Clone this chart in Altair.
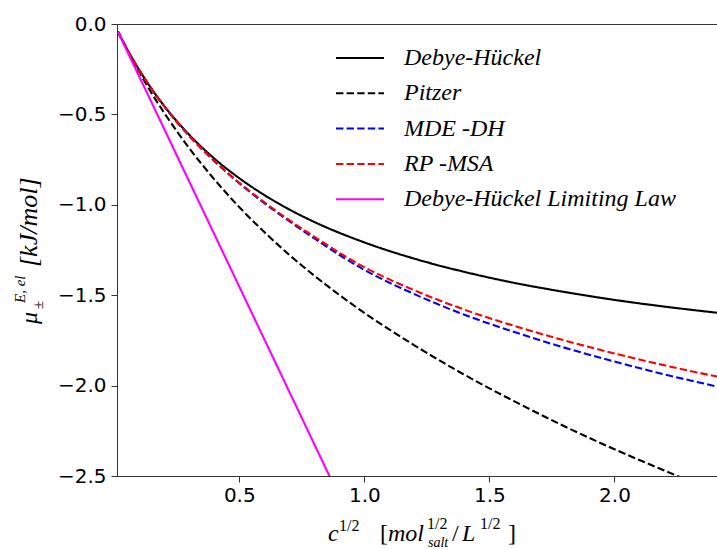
import altair as alt
import pandas as pd

# Square root of salt concentration, c^(1/2) in mol^(1/2)/L^(1/2)
sqrt_c = [0.015, 0.05, 0.1, 0.15, 0.2, 0.3, 0.4, 0.5, 0.6, 0.7, 0.8,
          1.0, 1.2, 1.4, 1.6, 1.8, 2.0, 2.2, 2.41]

# Electrostatic excess chemical potential, kJ/mol
debye_huckel = [-0.043, -0.136, -0.255, -0.360, -0.454, -0.613, -0.744, -0.853,
                -0.946, -1.026, -1.095, -1.208, -1.298, -1.371, -1.432, -1.482,
                -1.526, -1.563, -1.597]
pitzer = [-0.043, -0.139, -0.266, -0.384, -0.492, -0.687, -0.859, -1.013,
          -1.151, -1.277, -1.392, -1.598, -1.777, -1.940, -2.087, -2.225,
          -2.352, -2.470, -2.590]
mde_dh = [-0.043, -0.136, -0.255, -0.361, -0.456, -0.620, -0.758, -0.881,
          -0.991, -1.091, -1.186, -1.360, -1.494, -1.608, -1.704, -1.790,
          -1.867, -1.938, -2.005]
rp_msa = [-0.043, -0.136, -0.255, -0.361, -0.456, -0.619, -0.757, -0.878,
          -0.986, -1.085, -1.177, -1.345, -1.473, -1.580, -1.670, -1.750,
          -1.822, -1.888, -1.950]

# Debye-Hückel limiting law is a straight line in c^(1/2)
dhll_x = [0.015, 0.9]
dhll_y = [-0.044, -2.615]

series_names = ["Debye-Hückel", "Pitzer", "MDE -DH", "RP -MSA",
                "Debye-Hückel Limiting Law"]
series_colors = ["#000000", "#000000", "#0000ff", "#ff0000", "#ff00ff"]
series_dashes = [[1, 0], [7.4, 3.2], [7.4, 3.2], [7.4, 3.2], [1, 0]]

rows = []
for name, values in zip(series_names[:4], [debye_huckel, pitzer, mde_dh, rp_msa]):
    for i, (x, y) in enumerate(zip(sqrt_c, values)):
        rows.append({"x": x, "y": y, "model": name, "i": i})
for i, (x, y) in enumerate(zip(dhll_x, dhll_y)):
    rows.append({"x": x, "y": y, "model": series_names[4], "i": i})
df = pd.DataFrame(rows)

W, H = 600, 452
LEFT, TOP = 117, 24

legend_cfg = dict(
    title=None, orient="none", legendX=218, legendY=22,
    labelFont="Liberation Serif", labelFontStyle="italic", labelFontSize=24,
    labelColor="black", labelLimit=500, symbolType="stroke", symbolSize=2304,
    symbolStrokeWidth=2, labelOffset=19, clipHeight=24, rowPadding=11.3,
    padding=0,
)

x_enc = alt.X("x:Q", scale=alt.Scale(domain=[0.011, 2.41], nice=False, zero=False),
              axis=alt.Axis(values=[0.5, 1.0, 1.5, 2.0], format=".1f", title=None,
                            tickSize=6, labelFontSize=20, labelFont="DejaVu Sans",
                            labelColor="black", domainColor="#333", tickColor="#333",
                            grid=False, labelPadding=3, labelFlush=False))
y_enc = alt.Y("y:Q", scale=alt.Scale(domain=[-2.5, 0], nice=False, zero=False),
              axis=alt.Axis(values=[-2.5, -2.0, -1.5, -1.0, -0.5, 0.0], format=".1f",
                            title=None, tickSize=6, labelFontSize=20,
                            labelFont="DejaVu Sans", labelColor="black",
                            domainColor="#333", tickColor="#333", grid=False,
                            labelPadding=5, labelFlush=False))
color_enc = alt.Color("model:N", sort=series_names,
                      scale=alt.Scale(domain=series_names, range=series_colors),
                      legend=alt.Legend(**legend_cfg))
dash_enc = alt.StrokeDash("model:N", sort=series_names,
                          scale=alt.Scale(domain=series_names, range=series_dashes),
                          legend=alt.Legend(**legend_cfg))

base = alt.Chart(df)
lines = []
for name in series_names:
    lines.append(
        base.transform_filter(alt.datum.model == name)
        .mark_line(clip=True, strokeWidth=2.1, interpolate="monotone", strokeCap="butt")
        .encode(x=x_enc, y=y_enc, color=color_enc, strokeDash=dash_enc,
                order=alt.Order("i:Q"))
    )


def piece(text, px, py, size, italic=True, angle=0):
    """Place one fragment of an axis title at pixel position (px, py) of the page."""
    return alt.Chart(pd.DataFrame({"t": [text]})).mark_text(
        align="left", baseline="alphabetic", font="Liberation Serif",
        fontStyle="italic" if italic else "normal", fontSize=size,
        angle=angle, color="black",
    ).encode(text="t:N", x=alt.value(px - LEFT), y=alt.value(py - TOP))


# x-axis title: c^{1/2} [mol_{salt}^{1/2} / L^{1/2}]
x_title = [
    piece("c", 328, 541, 24),
    piece("1/2", 339, 531, 16, italic=False),
    piece("[", 380, 541, 24, italic=False),
    piece("mol", 388, 541, 24),
    piece("1/2", 427, 529, 16, italic=False),
    piece("salt", 428, 547, 14),
    piece("/", 452, 541, 24, italic=False),
    piece("L", 462, 541, 24),
    piece("1/2", 480, 529, 16, italic=False),
    piece("]", 508, 541, 24, italic=False),
]

# y-axis title: mu_{±}^{E,el} [kJ/mol], rotated to read upwards
y_title = [
    piece("μ", 37, 324, 24, angle=270),
    piece("±", 43, 309, 15, italic=False, angle=270),
    piece("E, el", 25, 303, 15, angle=270),
    piece("[kJ/mol]", 37, 267, 26, angle=270),
]

chart = (
    alt.layer(*lines, *x_title, *y_title)
    .properties(width=W, height=H, autosize="none",
                padding={"left": LEFT, "top": TOP, "right": 0, "bottom": 73})
    .configure_view(stroke="#333", strokeWidth=1)
    .configure_axis(domainWidth=1, tickWidth=1)
)

chart.save("out.html", embed_options={"renderer": "svg", "actions": False})
